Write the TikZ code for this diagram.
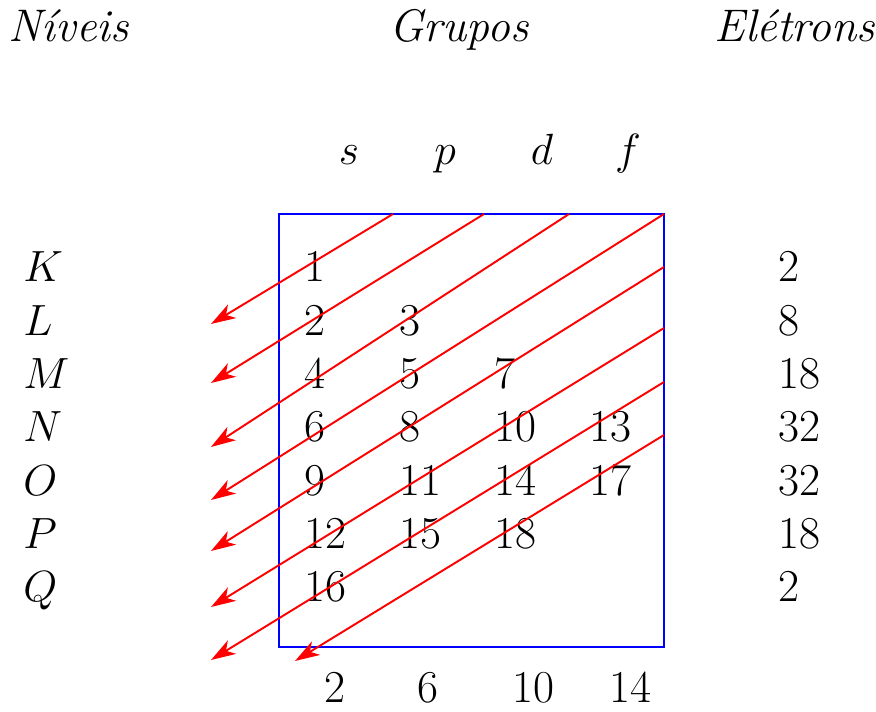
\documentclass[tikz,border=0pt]{standalone}
\usepackage{fontspec}
\usetikzlibrary{arrows.meta}
\begin{document}
\begin{tikzpicture}[x=0.02cm, y=-0.02cm, font=\fontsize{26}{31}\selectfont,
    seta/.style={red, line width=1.1pt, -{Stealth[length=14pt, width=9pt, inset=4pt]}},
    txt/.style={inner sep=0pt, anchor=base west},
    cab/.style={inner sep=0pt, anchor=base}]
    % ==== DEFINITIONS ====
    \def\ylin{282} % baseline of level K
    \def\dlin{53.3} % distance between levels
    \def\xcol{304} % left edge of column s
    \def\dcol{95} % distance between columns

    \useasboundingbox (0,0) rectangle (876,712);

    % ==== TITLES ====
    \node[cab] (niveis) at (69,42) {\textit{Níveis}};
    \node[cab] (grupos) at (459,42) {\textit{Grupos}};
    \node[cab] (eletrons) at (795,42) {\textit{Elétrons}};

    % ==== SUBLEVELS ====
    \foreach \g/\x in {s/349, p/445, d/542, f/628}
        \node[cab] (sub\g) at (\x,165) {$\g$};
    \foreach \e/\x in {2/335, 6/428, 10/533, 14/630}
        \node[cab] (max\e) at (\x,703) {\e};

    % ==== LEVELS AND ELECTRONS ====
    \foreach \n/\e/\r in {K/2/0, L/8/1, M/18/2, N/32/3, O/32/4, P/18/5, Q/2/6} {
        \node[txt] (niv\n) at (23,{\ylin+\dlin*\r}) {$\n$};
        \node[txt] (ele\n) at (778,{\ylin+\dlin*\r}) {\e};
    }

    % ==== ORDER NUMBERS ====
    \foreach \v/\c/\r in {1/0/0, 2/0/1, 4/0/2, 6/0/3, 9/0/4, 12/0/5, 16/0/6,
                          3/1/1, 5/1/2, 8/1/3, 11/1/4, 15/1/5,
                          7/2/2, 10/2/3, 14/2/4, 18/2/5,
                          13/3/3, 17/3/4}
        \node[txt] (ord\v) at ({\xcol+\dcol*\c},{\ylin+\dlin*\r}) {\v};

    % ==== BOX ====
    \coordinate (caixaNO) at (279,214);
    \coordinate (caixaSE) at (664,647);
    \draw[blue, line width=1.1pt] (caixaNO) rectangle (caixaSE);

    % ==== DIAGONAL ARROWS ====
    \foreach \i/\xa/\ya/\xb/\yb in {1/393/214/211/324, 2/484/214/211/383,
                                    3/569/214/211/447, 4/664/214/211/500,
                                    5/664/267/211/551, 6/664/328/211/607,
                                    7/664/382/211/660, 8/664/435/295/661} {
        \coordinate (ini\i) at (\xa,\ya);
        \coordinate (fim\i) at (\xb,\yb);
        \draw[seta] (ini\i) -- (fim\i);
    }
\end{tikzpicture}
\end{document}
